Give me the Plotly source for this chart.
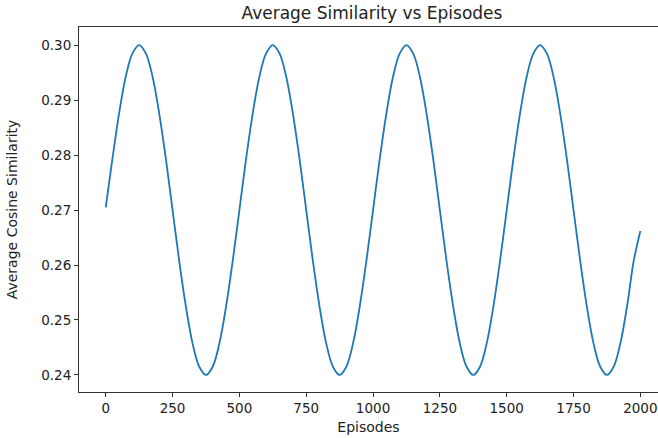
import plotly.graph_objects as go

episodes = [0, 25, 50, 75, 100, 125, 150, 175, 200, 225,
            250, 275, 300, 325, 350, 375, 400, 425, 450, 475,
            500, 525, 550, 575, 600, 625, 650, 675, 700, 725,
            750, 775, 800, 825, 850, 875, 900, 925, 950, 975,
            1000, 1025, 1050, 1075, 1100, 1125, 1150, 1175, 1200, 1225,
            1250, 1275, 1300, 1325, 1350, 1375, 1400, 1425, 1450, 1475,
            1500, 1525, 1550, 1575, 1600, 1625, 1650, 1675, 1700, 1725,
            1750, 1775, 1800, 1825, 1850, 1875, 1900, 1925, 1950, 1975,
            2000]

similarity = [0.2705, 0.2793, 0.2876, 0.2943, 0.2985, 0.3000, 0.2985, 0.2943, 0.2876, 0.2793,
              0.2700, 0.2607, 0.2524, 0.2457, 0.2415, 0.2400, 0.2415, 0.2457, 0.2524, 0.2607,
              0.2700, 0.2793, 0.2876, 0.2943, 0.2985, 0.3000, 0.2985, 0.2943, 0.2876, 0.2793,
              0.2700, 0.2607, 0.2524, 0.2457, 0.2415, 0.2400, 0.2415, 0.2457, 0.2524, 0.2607,
              0.2700, 0.2793, 0.2876, 0.2943, 0.2985, 0.3000, 0.2985, 0.2943, 0.2876, 0.2793,
              0.2700, 0.2607, 0.2524, 0.2457, 0.2415, 0.2400, 0.2415, 0.2457, 0.2524, 0.2607,
              0.2700, 0.2793, 0.2876, 0.2943, 0.2985, 0.3000, 0.2985, 0.2943, 0.2876, 0.2793,
              0.2700, 0.2607, 0.2524, 0.2457, 0.2415, 0.2400, 0.2415, 0.2457, 0.2524, 0.2607,
              0.2662]

x_ticks = [0, 250, 500, 750, 1000, 1250, 1500, 1750, 2000]
y_ticks = [0.24, 0.25, 0.26, 0.27, 0.28, 0.29, 0.30]
y_tick_labels = ["0.24", "0.25", "0.26", "0.27", "0.28", "0.29", "0.30"]

fig = go.Figure()
fig.add_trace(go.Scatter(
    x=episodes, y=similarity, mode="lines",
    line=dict(color="#1f77b4", width=1.8, shape="spline", smoothing=1.0),
    showlegend=False,
))

font_family = "DejaVu Sans"
fig.update_layout(
    width=658, height=438,
    margin=dict(l=79, r=0, t=27, b=46, autoexpand=False),
    paper_bgcolor="white", plot_bgcolor="white",
    font=dict(family=font_family, color="#222222"),
    title=dict(text="Average Similarity vs Episodes", x=0.506, xref="paper", xanchor="center",
               y=1 - 13 / 438, yref="container", yanchor="middle",
               font=dict(size=17, family=font_family, color="#222222")),
)
fig.update_xaxes(
    automargin=False,
    range=[-100, 2066], tickvals=x_ticks, ticktext=[str(v) for v in x_ticks],
    showgrid=False, zeroline=False,
    showline=True, linecolor="#333333", linewidth=1, mirror=True,
    ticks="outside", ticklen=4, tickcolor="#333333",
    tickfont=dict(size=13.5, family=font_family, color="#222222"),
    title=dict(text="Episodes", font=dict(size=14, family=font_family, color="#222222"), standoff=6),
)
fig.update_yaxes(
    automargin=False,
    range=[0.2369, 0.3033], tickvals=y_ticks, ticktext=y_tick_labels,
    showgrid=False, zeroline=False,
    showline=True, linecolor="#333333", linewidth=1,
    ticks="outside", ticklen=4, tickcolor="#333333",
    tickfont=dict(size=13.5, family=font_family, color="#222222"),
    title=dict(text="Average Cosine Similarity", font=dict(size=14, family=font_family, color="#222222"), standoff=20),
)

fig.write_html("out.html", config={"displayModeBar": False},
               post_script="document.body.style.margin='0';document.body.style.overflow='hidden';")
